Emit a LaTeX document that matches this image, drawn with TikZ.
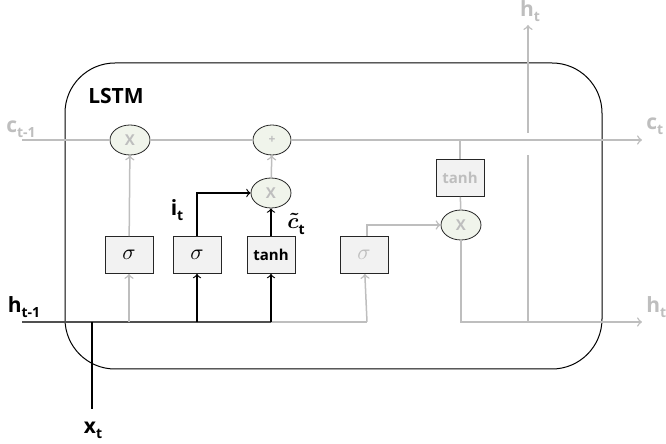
\documentclass[tikz,border=0pt]{standalone}
\usepackage{amsmath, amssymb}
\usepackage{fontspec}
\setmainfont{Open Sans}
\usepackage{tikz}
\usetikzlibrary{shapes.geometric}

\definecolor{szurke}{RGB}{190,190,190}
\definecolor{sotet}{RGB}{80,80,80}
\definecolor{kapuszin}{RGB}{242,242,242}
\definecolor{szorzoszin}{RGB}{240,244,235}

% felirat alsó indexszel
\newcommand{\jel}[2]{#1\raisebox{-0.45ex}{\fontsize{7}{8}\selectfont #2}}
\newcommand{\szigma}{\fontsize{11}{12}\selectfont$\sigma$}

\begin{document}
\begin{tikzpicture}[x=0.5pt,y=-0.5pt,
		vonal/.style={draw=szurke, line width=0.75pt},
		fvonal/.style={draw=black, line width=0.6pt},
		kapu/.style={draw=black!85, fill=kapuszin, line width=0.4pt, minimum width=24pt, minimum height=18.5pt, inner sep=0pt, font=\bfseries\fontsize{7.5}{8}\selectfont},
		szorzo/.style={ellipse, draw=black!85, fill=szorzoszin, line width=0.4pt, minimum width=20pt, minimum height=15pt, inner sep=0pt, text=szurke, font=\bfseries\fontsize{7.5}{8}\selectfont},
		felirat/.style={font=\bfseries\fontsize{10.5}{12}\selectfont, inner sep=0pt}]
	\useasboundingbox (0,0) rectangle (666,444);
	
	% keret
	\draw[line width=0.5pt, rounded corners=25pt] (65,63) rectangle (602,369);
	\node[felirat] (lstm) at (116,96) {LSTM};
	
	% kapuk
	\node[kapu] (felejt) at (129,255) {\szigma};
	\node[kapu] (bemenet) at (197,255) {\szigma};
	\node[kapu] (jelolt) at (271,255) {tanh};
	\node[kapu, text=szurke] (kimenet) at (364,255) {\szigma};
	\node[kapu, text=szurke] (ktanh) at (460,178) {tanh};
	
	% műveletek
	\node[szorzo] (fx) at (130,140) {X};
	\node[szorzo, minimum width=19pt] (plusz) at (272,140) {\fontsize{6}{6}\selectfont +};
	\node[szorzo] (ix) at (271,193) {X};
	\node[szorzo] (ox) at (461,225) {X};
	
	% pontok
	\coordinate (cbe) at (22,140);
	\coordinate (cki) at (642,140);
	\coordinate (hbe) at (22,322);
	\coordinate (hki) at (642,322);
	\coordinate (xlent) at (92,409);
	\coordinate (xh) at (92,322);
	\coordinate (fh) at (129,322);
	\coordinate (bh) at (197,322);
	\coordinate (jh) at (271,322);
	\coordinate (kh) at (367,322);
	\coordinate (kfel) at (367,225);
	\coordinate (ic) at (197,193);
	\coordinate (tc) at (460,140);
	\coordinate (oh) at (461,322);
	\coordinate (fent) at (528,322);
	\coordinate (res1) at (528,155);
	\coordinate (res2) at (528,133);
	\coordinate (hfel) at (528,25);
	
	% cellaállapot
	\draw[vonal] (cbe) -- (fx);
	\draw[vonal] (fx) -- (plusz);
	\draw[vonal, ->] (plusz) -- (cki);
	\draw[vonal] (tc) -- (ktanh);
	
	% rejtett állapot
	\draw[sotet, line width=0.75pt] (hbe) -- (jh);
	\draw[vonal] (jh) -- (kh);
	\draw[vonal, ->] (ox) -- (oh) -- (hki);
	\draw[vonal] (fent) -- (res1);
	\draw[vonal, ->] (res2) -- (hfel);
	\draw[fvonal] (xh) -- (xlent);
	
	% nyilak
	\draw[vonal, ->] (fh) -- (felejt);
	\draw[vonal, ->] (felejt) -- (fx);
	\draw[fvonal, ->] (bh) -- (bemenet);
	\draw[fvonal, ->] (bemenet) -- (ic) -- (ix);
	\draw[fvonal, ->] (jh) -- (jelolt);
	\draw[fvonal, ->] (jelolt) -- (ix);
	\draw[vonal, ->] (ix) -- (plusz);
	\draw[vonal, ->] (kh) -- (kimenet);
	\draw[vonal, ->] (kimenet.north -| kfel) -- (kfel) -- (ox);
	\draw[vonal] (ktanh) -- (ox);
	
	% feliratok
	\node[felirat, text=szurke] (cel) at (21,129) {\jel{c}{t-1}};
	\node[felirat, text=szurke, anchor=west] (cuj) at (646,126) {\jel{c}{t}};
	\node[felirat] (hel) at (24,307) {\jel{h}{t-1}};
	\node[felirat, text=szurke, anchor=west] (huj) at (646,307) {\jel{h}{t}};
	\node[felirat, text=szurke] (hfent) at (530,11) {\jel{h}{t}};
	\node[felirat] (xt) at (93,430) {\jel{x}{t}};
	\node[felirat] (it) at (177,210) {\jel{i}{t}};
	\node[felirat] (ct) at (296,224) {$\boldsymbol{\tilde{c}}$\jel{}{t}};
\end{tikzpicture}
\end{document}
